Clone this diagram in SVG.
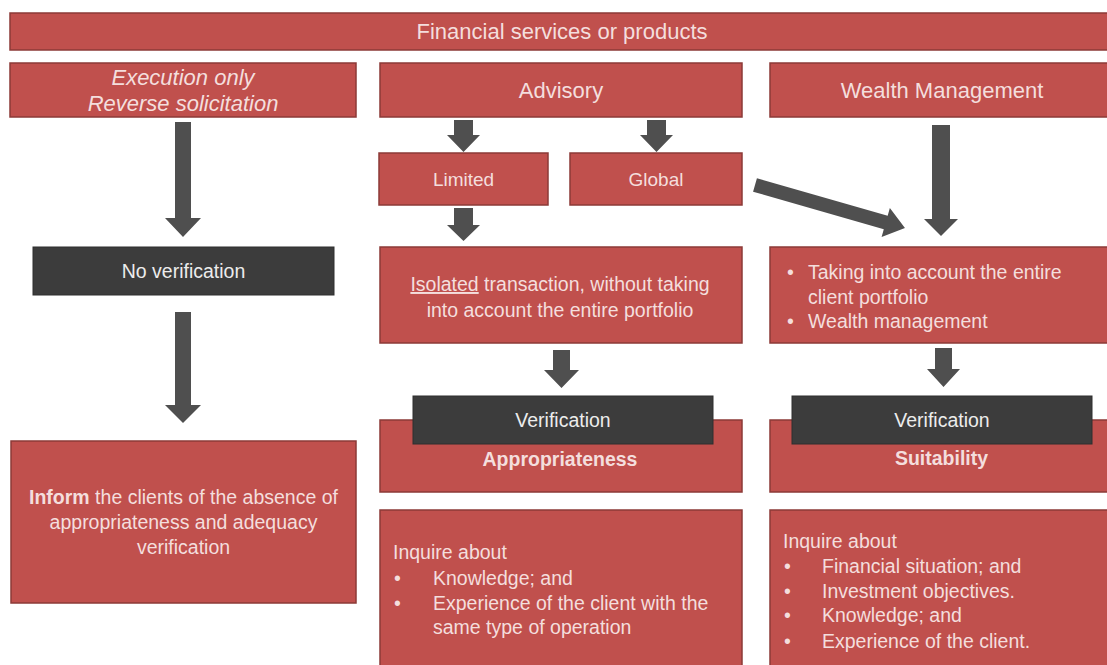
<svg xmlns="http://www.w3.org/2000/svg" width="1107" height="665" viewBox="0 0 1107 665">
  <style>
    .box { fill: #c0504d; stroke: #8c3a37; stroke-width: 1.5; }
    .dark { fill: #3c3c3c; stroke: #2e2e2e; stroke-width: 1; }
    .arrow { fill: #4f4f4f; }
    text { font-family: "Liberation Sans", Arial, sans-serif; fill: #f4dedd; }
    .h { font-size: 22px; }
    .b { font-size: 19.5px; }
    .s { font-size: 19px; }
    .c { text-anchor: middle; }
    .lt { fill: #ececec; }
    .bold { font-weight: bold; }
  </style>

  <rect width="1107" height="665" fill="#ffffff"/>

  <!-- connectors -->
  <g id="connectors">
    <!-- Execution only -> No verification -->
    <polygon class="arrow" points="175,122 191,122 191,218 201,218 183,237 165,218 175,218"/>
    <!-- No verification -> Inform -->
    <polygon class="arrow" points="175,312 191,312 191,405 201,405 183,423 165,405 175,405"/>
    <!-- Advisory -> Limited -->
    <polygon class="arrow" points="454,120 473,120 473,135 480,135 463.5,152 447,135 454,135"/>
    <!-- Advisory -> Global -->
    <polygon class="arrow" points="647,120 666,120 666,135 673,135 656.5,152 640,135 647,135"/>
    <!-- Limited -> Isolated transaction -->
    <polygon class="arrow" points="454,208 473,208 473,225 480,225 463.5,241 447,225 454,225"/>
    <!-- Global -> entire portfolio -->
    <polygon class="arrow" points="0,-7 136,-7 136,-15 156,0 136,15 136,7 0,7" transform="translate(755,185) rotate(16)"/>
    <!-- Wealth Management -> entire portfolio -->
    <polygon class="arrow" points="932,125 950,125 950,219 958,219 941,236 924,219 932,219"/>
    <!-- Isolated transaction -> Verification -->
    <polygon class="arrow" points="553,350 570,350 570,370 579,370 561.5,388 544,370 553,370"/>
    <!-- entire portfolio -> Verification -->
    <polygon class="arrow" points="935,348 952,348 952,369 960,369 943.5,387 927,369 935,369"/>
  </g>

  <g id="financial-services">
    <rect class="box" x="10" y="13" width="1105" height="37"/>
    <text class="h c" x="562" y="39">Financial services or products</text>
  </g>

  <g id="execution-only">
    <rect class="box" x="10" y="63" width="346" height="54"/>
    <text class="h c" x="183" y="85" font-style="italic">Execution only</text>
    <text class="h c" x="183" y="111" font-style="italic">Reverse solicitation</text>
  </g>

  <g id="advisory">
    <rect class="box" x="380" y="63" width="362" height="54"/>
    <text class="h c" x="561" y="98">Advisory</text>
  </g>

  <g id="wealth-management">
    <rect class="box" x="770" y="63" width="345" height="54"/>
    <text class="h c" x="942" y="98">Wealth Management</text>
  </g>

  <g id="limited">
    <rect class="box" x="379" y="153" width="169" height="52"/>
    <text class="s c" x="463.5" y="186">Limited</text>
  </g>

  <g id="global">
    <rect class="box" x="570" y="153" width="172" height="52"/>
    <text class="s c" x="656" y="186">Global</text>
  </g>

  <g id="no-verification">
    <rect class="dark" x="33" y="247" width="301" height="48"/>
    <text class="b c lt" x="183.5" y="278">No verification</text>
  </g>

  <g id="isolated-transaction">
    <rect class="box" x="380" y="247" width="362" height="96"/>
    <text class="b c" x="560" y="291"><tspan text-decoration="underline">Isolated</tspan> transaction, without taking</text>
    <text class="b c" x="560" y="317">into account the entire portfolio</text>
  </g>

  <g id="entire-portfolio">
    <rect class="box" x="770" y="247" width="345" height="96"/>
    <text class="b" x="787" y="279">•</text>
    <text class="b" x="808" y="279">Taking into account the entire</text>
    <text class="b" x="808" y="304">client portfolio</text>
    <text class="b" x="787" y="328">•</text>
    <text class="b" x="808" y="328">Wealth management</text>
  </g>

  <g id="appropriateness">
    <rect class="box" x="380" y="420" width="362" height="72"/>
    <rect class="dark" x="413" y="396" width="300" height="48"/>
    <text class="b c lt" x="563" y="427">Verification</text>
    <text class="b c bold" x="560" y="466">Appropriateness</text>
  </g>

  <g id="suitability">
    <rect class="box" x="770" y="420" width="345" height="72"/>
    <rect class="dark" x="792" y="396" width="300" height="48"/>
    <text class="b c lt" x="942" y="427">Verification</text>
    <text class="b c bold" x="941.5" y="465">Suitability</text>
  </g>

  <g id="inform-clients">
    <rect class="box" x="11" y="441" width="345" height="162"/>
    <text class="b c" x="183.5" y="504"><tspan class="bold">Inform</tspan> the clients of the absence of</text>
    <text class="b c" x="183.5" y="529">appropriateness and adequacy</text>
    <text class="b c" x="183.5" y="554">verification</text>
  </g>

  <g id="inquire-appropriateness">
    <rect class="box" x="380" y="510" width="362" height="170"/>
    <text class="b" x="393" y="559">Inquire about</text>
    <text class="b" x="394" y="585">•</text>
    <text class="b" x="433" y="585">Knowledge; and</text>
    <text class="b" x="394" y="610">•</text>
    <text class="b" x="433" y="610">Experience of the client with the</text>
    <text class="b" x="433" y="634">same type of operation</text>
  </g>

  <g id="inquire-suitability">
    <rect class="box" x="770" y="510" width="345" height="170"/>
    <text class="b" x="783" y="548">Inquire about</text>
    <text class="b" x="784" y="573">•</text>
    <text class="b" x="822" y="573">Financial situation; and</text>
    <text class="b" x="784" y="598">•</text>
    <text class="b" x="822" y="598">Investment objectives.</text>
    <text class="b" x="784" y="622">•</text>
    <text class="b" x="822" y="622">Knowledge; and</text>
    <text class="b" x="784" y="648">•</text>
    <text class="b" x="822" y="648">Experience of the client.</text>
  </g>
</svg>
